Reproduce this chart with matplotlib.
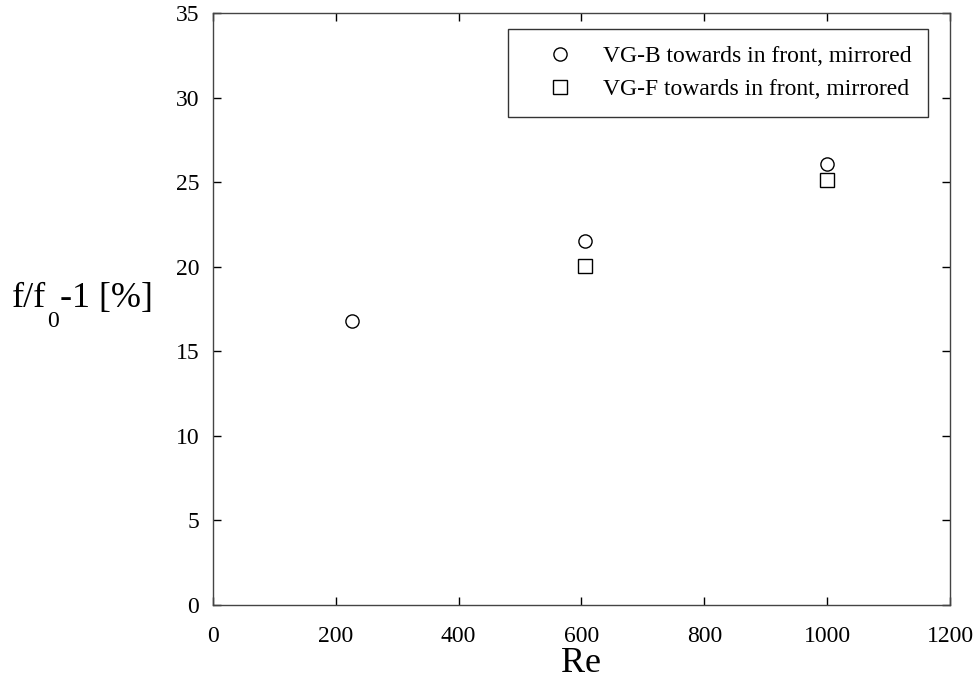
import matplotlib
matplotlib.use("Agg")
import matplotlib.pyplot as plt

plt.rcParams['font.family'] = ['Liberation Serif', 'DejaVu Serif']

re_b = [227, 606, 1000]
f_b = [16.8, 21.5, 26.1]
re_f = [606, 1000]
f_f = [20.05, 25.1]
labels = ["VG-B towards in front, mirrored", "VG-F towards in front, mirrored"]
xticks = [0, 200, 400, 600, 800, 1000, 1200]
yticks = [0, 5, 10, 15, 20, 25, 30, 35]

W, H = 979, 690
fig = plt.figure(figsize=(W / 100, H / 100), dpi=100)
ax = fig.add_axes([213 / W, 85 / H, 737 / W, 592 / H])

ax.plot(re_b, f_b, linestyle='none', marker='o', markersize=9.5,
        markerfacecolor='white', markeredgecolor='black', markeredgewidth=1.0,
        label=labels[0])
ax.plot(re_f, f_f, linestyle='none', marker='s', markersize=9.5,
        markerfacecolor='white', markeredgecolor='black', markeredgewidth=1.0,
        label=labels[1])

ax.set_xlim(0, 1200)
ax.set_ylim(0, 35)
ax.set_xticks(xticks)
ax.set_yticks(yticks)
ax.tick_params(direction='in', length=6, width=1, top=True, right=True,
               labelsize=17, colors='black')
ax.tick_params(axis='x', pad=15)
ax.tick_params(axis='y', pad=10)
for s in ax.spines.values():
    s.set_linewidth(1.0)
    s.set_color('#444444')

ax.set_xlabel('Re', fontsize=26, labelpad=0)

# y-axis label built from pieces so the subscript sits low
fig.canvas.draw()
renderer = fig.canvas.get_renderer()
x0 = 12 / W
base = (H - 307) / H
sub_base = (H - 327) / H
t1 = fig.text(x0, base, 'f/f', fontsize=26, ha='left', va='baseline')
bb = t1.get_window_extent(renderer)
t2 = fig.text(bb.x1 / W + 1 / W, sub_base, '0', fontsize=17, ha='left', va='baseline')
bb2 = t2.get_window_extent(renderer)
fig.text(bb2.x1 / W + 1 / W, base, '-1 [%]', fontsize=26, ha='left', va='baseline')

leg = ax.legend(loc='upper right', bbox_to_anchor=(0.970, 0.973), fontsize=17,
                frameon=True, fancybox=False, edgecolor='black',
                borderpad=0.7, labelspacing=0.5, handletextpad=0.32,
                handlelength=3.0, borderaxespad=0.0)
leg.get_frame().set_linewidth(1.0)

fig.savefig('out.png', dpi=100)
